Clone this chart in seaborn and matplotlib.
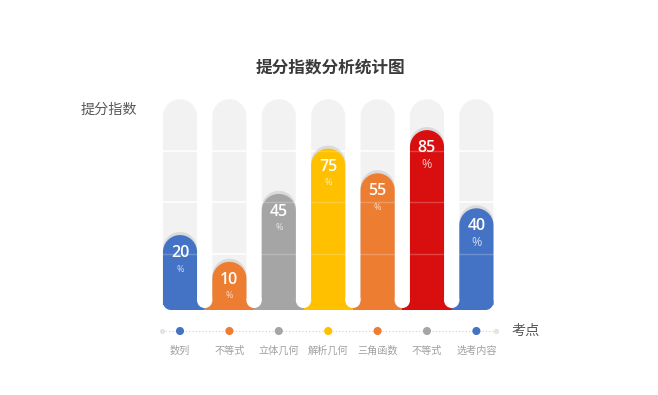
import numpy as np
import pandas as pd
import seaborn as sns
import matplotlib.pyplot as plt
from matplotlib.patches import Polygon, Ellipse

# ---------------- data ----------------
categories = ["数列", "不等式", "立体几何", "解析几何", "三角函数", "不等式", "选考内容"]
value_labels = [20, 10, 45, 75, 55, 85, 40]          # numbers printed in the bars
bar_heights = [34, 21, 54, 76, 64, 85, 47]            # bar lengths as read on the 0-100 grid
bg_max = [100, 100, 100, 100, 100, 100, 100]
grid_ticks = [25, 50, 75]
colors = ["#4472c4", "#ed7d31", "#a5a5a5", "#ffc000", "#ed7d31", "#d90f0f", "#4472c4"]
dot_colors = ["#4472c4", "#ed7d31", "#a5a5a5", "#ffc000", "#ed7d31", "#a5a5a5", "#4472c4"]
pct_sizes = [6.5, 6.5, 6.5, 6.5, 6.5, 9, 9]

title = "提分指数分析统计图"
y_title = "提分指数"
x_title = "考点"

# ---------------- setup ----------------
sns.set_style("white")
plt.rcParams['font.family'] = ['Noto Sans CJK SC', 'DejaVu Sans']

W, H = 658, 395
fig = plt.figure(figsize=(W / 100, H / 100), dpi=100)

# main axes: pixel x 155.3..501.1, pixel y 98..310
ax_l, ax_r, ax_t, ax_b = 155.3, 501.1, 98.0, 310.0
ax = fig.add_axes([ax_l / W, 1 - ax_b / H, (ax_r - ax_l) / W, (ax_b - ax_t) / H])
XLIM = (-0.5, 6.5)
YLIM = (-2.4, 100.6)

n = len(categories)
df = pd.DataFrame({
    "idx": list(range(n)),
    "cat": categories,
    "h": bar_heights,
    "bg": bg_max,
    "halo": np.array(bar_heights) + 1.5,
})

bw = 0.69  # bar width in category units

ppx = (ax_r - ax_l) / (XLIM[1] - XLIM[0])   # pixels per x unit
ppy = (ax_b - ax_t) / (YLIM[1] - YLIM[0])   # pixels per y unit
asp = ppx / ppy


def round_top(rect, color, z):
    x0, y0 = rect.get_x(), rect.get_y()
    w, h = rect.get_width(), rect.get_height()
    y1 = y0 + h
    rx = w / 2
    ry = rx * asp
    xc, yb = x0 + rx, y1 - ry
    t = np.linspace(0, np.pi, 60)
    xs = np.concatenate([[x0, x0 + w], xc + rx * np.cos(t), [x0]])
    ys = np.concatenate([[y0, y0], yb + ry * np.sin(t), [y0]])
    ax.add_patch(Polygon(np.column_stack([xs, ys]), closed=True, facecolor=color,
                         edgecolor="none", zorder=z))
    rect.set_visible(False)


def draw_bars(ycol, palette, z):
    before = len(ax.patches)
    sns.barplot(data=df, x="idx", y=ycol, hue="idx", palette=palette, width=bw,
                legend=False, ax=ax, errorbar=None, saturation=1)
    new = [p for p in ax.patches[before:] if p.get_width() > 0]
    new.sort(key=lambda p: p.get_x())
    for p, c in zip(new, palette):
        round_top(p, c, z)
    return new


# background capsules
draw_bars("bg", ["#f2f2f2"] * n, 1)
# white grid lines over the background
ax.hlines(grid_ticks, XLIM[0], XLIM[1], colors="white", lw=1.2, zorder=1.5)
# halo caps
draw_bars("halo", ["#dadada"] * n, 2)
# coloured bars
bars = draw_bars("h", colors, 3)

# base strip joining bars with rounded white slots between
strip_top = 2.28
strip_bot = YLIM[0]
xl_all = 0 - bw / 2
xr_all = (n - 1) + bw / 2
r_px = 8
crx, cry = r_px / ppx, r_px / ppy
for i, c in enumerate(colors):
    xl = max(i - 0.5, xl_all)
    xr = min(i + 0.5, xr_all)
    pts = []
    if i == 0:
        t = np.linspace(np.pi, 1.5 * np.pi, 20)
        pts += [(xl, strip_top)]
        pts += list(zip(xl + crx + crx * np.cos(t), strip_bot + cry + cry * np.sin(t)))
    else:
        pts += [(xl, strip_top), (xl, strip_bot)]
    if i == n - 1:
        t = np.linspace(1.5 * np.pi, 2 * np.pi, 20)
        pts += list(zip(xr - crx + crx * np.cos(t), strip_bot + cry + cry * np.sin(t)))
        pts += [(xr, strip_top)]
    else:
        pts += [(xr, strip_bot), (xr, strip_top)]
    ax.add_patch(Polygon(pts, closed=True, facecolor=c, edgecolor="none", zorder=3))

gap_rx = (1 - bw) / 2
for i in range(n - 1):
    ax.add_patch(Ellipse((i + 0.5, strip_top), 2 * gap_rx, 2 * gap_rx * asp,
                         facecolor="white", edgecolor="none", zorder=3.5))

# faint grid lines over coloured bars
ax.hlines(grid_ticks, XLIM[0], XLIM[1], colors="white", lw=1.0, alpha=0.22, zorder=4)

# value labels
for i, (h, v) in enumerate(zip(bar_heights, value_labels)):
    ax.text(i, h - 18 / ppy, str(v), ha="center", va="center", color="white",
            fontsize=11.5, fontfamily=["Open Sans", "DejaVu Sans"], fontweight="semibold",
            zorder=5)
    ax.text(i, h - 34 / ppy, "%", ha="center", va="center", color="white", alpha=0.75,
            fontsize=pct_sizes[i], fontfamily=["Open Sans", "DejaVu Sans"], zorder=5)

ax.set_xlim(*XLIM)
ax.set_ylim(*YLIM)
ax.axis("off")

# category axis with dots
ax2 = fig.add_axes([ax_l / W, 1 - 340 / H, (ax_r - ax_l) / W, 18 / H])
ends = [XLIM[0] + 0.136, XLIM[1] - 0.103]
ax2.plot(ends, [0, 0], ls=(0, (1, 2)), color="#cfcfcf", lw=0.8, zorder=1)
ax2.scatter(ends, [0, 0], s=14, color="#e3e3e3", zorder=2, linewidths=0)
sns.scatterplot(data=df.assign(z=0), x="idx", y="z", hue="idx", palette=dot_colors, s=34,
                linewidth=0, legend=False, ax=ax2, zorder=3)
ax2.set_xlim(*XLIM)
ax2.set_ylim(-1, 1)
ax2.set_xticks(range(n))
ax2.set_xticklabels(categories, fontsize=7.3, color="#a0a0a0")
ax2.tick_params(axis="x", length=0, pad=4)
ax2.set_yticks([])
ax2.set_xlabel("")
ax2.set_ylabel("")
for s in ax2.spines.values():
    s.set_visible(False)

# titles
fig.text(330 / W, 1 - 67 / H, title, ha="center", va="center", fontsize=12,
         fontweight="bold", color="#3a3a3a")
fig.text(81 / W, 1 - 110 / H, y_title, ha="left", va="center", fontsize=10.2,
         color="#595959")
fig.text(511 / W, 1 - 331 / H, x_title, ha="left", va="center", fontsize=10.2,
         color="#595959")

fig.savefig("out.png", dpi=100, facecolor="white")
